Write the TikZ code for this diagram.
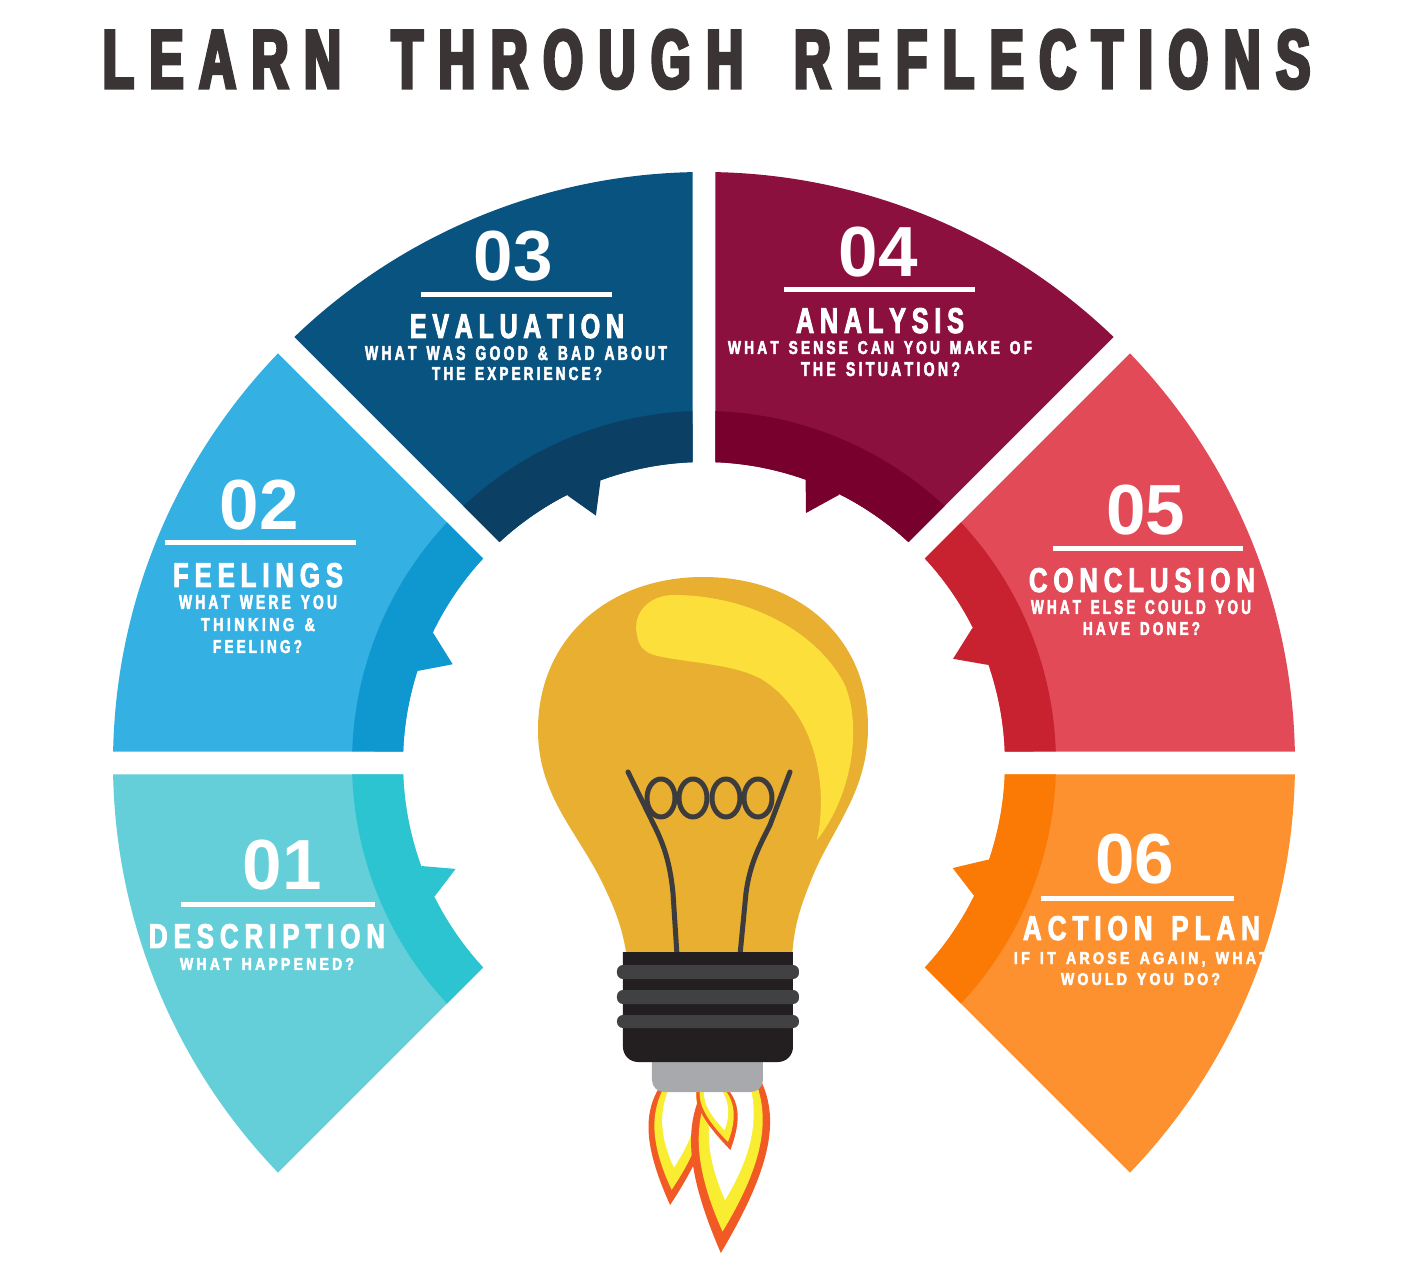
\documentclass[tikz,border=0pt]{standalone}
\usepackage{fontspec}
\usepackage{graphicx}
\setmainfont{Liberation Sans}
\newfontfamily\titlefont{Liberation Sans}[UprightFont={* Bold}, FakeStretch=0.55, FakeBold=4]
\newfontfamily\headfont{Liberation Sans}[UprightFont={* Bold}, FakeStretch=0.7, FakeBold=2.5]
\newfontfamily\numfont{Liberation Sans}[UprightFont={* Bold}]

\definecolor{titlec}{HTML}{3B3434}
\definecolor{sAl}{HTML}{65CFD9}\definecolor{sAd}{HTML}{2DC4D2}
\definecolor{sBl}{HTML}{35B0E2}\definecolor{sBd}{HTML}{0F98CF}
\definecolor{sCl}{HTML}{085380}\definecolor{sCd}{HTML}{0B3F63}
\definecolor{sDl}{HTML}{8B103D}\definecolor{sDd}{HTML}{77002D}
\definecolor{sEl}{HTML}{E24A58}\definecolor{sEd}{HTML}{C8212F}
\definecolor{sFl}{HTML}{FD912F}\definecolor{sFd}{HTML}{FB7A05}
\definecolor{bulbc}{HTML}{E8AF30}
\definecolor{hlc}{HTML}{FDDF3B}
\definecolor{filc}{HTML}{3C3B3D}
\definecolor{based}{HTML}{231F20}
\definecolor{basest}{HTML}{414042}
\definecolor{capc}{HTML}{A7A9AC}
\definecolor{flo}{HTML}{F15A24}
\definecolor{fly}{HTML}{F9ED32}

\ExplSyntaxOn
\bool_new:N \l_my_first_bool
\bool_new:N \l_my_wfirst_bool
\cs_new_protected:Npn \my_word:nn #1#2
  {
    \bool_set_true:N \l_my_first_bool
    \tl_map_inline:nn {#2}
      {
        \bool_if:NF \l_my_first_bool { \kern #1 \relax }
        \bool_set_false:N \l_my_first_bool
        ##1
      }
  }
\NewDocumentCommand \spread { m m m }
  {
    \seq_set_split:Nnn \l_tmpa_seq { ~ } {#3}
    \bool_set_true:N \l_my_wfirst_bool
    \seq_map_inline:Nn \l_tmpa_seq
      {
        \bool_if:NF \l_my_wfirst_bool { \kern #2 \relax }
        \bool_set_false:N \l_my_wfirst_bool
        \my_word:nn {#1} {##1}
      }
  }
\ExplSyntaxOff

\newcommand\hd[3]{\resizebox{#1pt}{#2pt}{\headfont\spread{0.16em}{0.5em}{#3}}}

% ring segment: #1 start, #2 end, #3 light, #4 dark, #5 #6 tooth bases, #7 tooth tip
\newcommand\ringseg[7]{%
  \fill[#3] (#1+1.115:591pt) arc[start angle=#1+1.115, end angle=#2-1.115, radius=591pt]
     -- (#2-2.19:301pt) arc[start angle=#2-2.19, end angle=#1+2.19, radius=301pt] -- cycle;
  \fill[#4] (#1+1.873:352pt) arc[start angle=#1+1.873, end angle=#2-1.873, radius=352pt]
     -- (#2-2.19:301pt) arc[start angle=#2-2.19, end angle=#1+2.19, radius=301pt] -- cycle;
  \fill[#4] (#5:318pt) -- (#5:300pt) -- (#7:270pt) -- (#6:300pt) -- (#6:318pt) -- cycle;
}

\newcommand\flame[5]{%
  \begin{scope}[shift={(#1,#2)}, xscale=#3, yscale=#4, xslant=#5]
    \fill[flo] (-0.55,0.05) .. controls (-1.05,-0.2) and (-0.9,-0.5) .. (0,-1)
       .. controls (0.9,-0.5) and (1.05,-0.2) .. (0.55,0.05) -- cycle;
    \fill[fly] (-0.43,0.05) .. controls (-0.86,-0.2) and (-0.72,-0.48) .. (0,-0.87)
       .. controls (0.72,-0.48) and (0.86,-0.2) .. (0.43,0.05) -- cycle;
    \fill[white] (-0.3,0.05) .. controls (-0.62,-0.2) and (-0.47,-0.42) .. (0,-0.68)
       .. controls (0.47,-0.42) and (0.62,-0.2) .. (0.3,0.05) -- cycle;
  \end{scope}}

\tikzset{
  lbl/.style={anchor=base, inner sep=0pt, outer sep=0pt, text=white},
  num/.style={anchor=base west, inner sep=0pt, outer sep=0pt, text=white,
              font=\numfont\fontsize{71}{71}\selectfont},
  uline/.style={white, line width=5pt}
}

\begin{document}
\begin{tikzpicture}[x=1pt, y=1pt]
\useasboundingbox (-704,-511) rectangle (710,763);
\fill[white] (-704,-511) rectangle (710,763);

% ring segments
\ringseg{180}{225}{sAl}{sAd}{200.1}{206.3}{203.1}
\ringseg{135}{180}{sBl}{sBd}{154.4}{162.1}{158.55}
\ringseg{90}{135}{sCl}{sCd}{110.2}{117}{113.6}
\ringseg{45}{90}{sDl}{sDd}{70.2}{63.3}{67.8}
\ringseg{0}{45}{sEl}{sEd}{26.65}{19.1}{22.7}
\ringseg{-45}{0}{sFl}{sFd}{-18.8}{-26.1}{-22.9}

% bulb glass
\fill[bulbc] (-77,-195) .. controls (-82,-160) and (-92,-140) .. (-104,-115)
  .. controls (-130,-65) and (-166,-30) .. (-166,33)
  .. controls (-166,125) and (-95,186) .. (-1,186)
  .. controls (95,186) and (164,125) .. (164,36)
  .. controls (164,-30) and (128,-65) .. (108,-115)
  .. controls (98,-140) and (90,-160) .. (88,-195) -- cycle;
% highlight
\fill[hlc] (-67,128) .. controls (-72,150) and (-55,168) .. (-30,168)
  .. controls (40,168) and (110,135) .. (140,80)
  .. controls (158,40) and (150,-30) .. (113,-77)
  .. controls (125,-20) and (110,50) .. (59,83)
  .. controls (30,100) and (-20,100) .. (-50,108)
  .. controls (-60,111) and (-66,118) .. (-67,128) -- cycle;
% filament
\begin{scope}[filc, line width=5pt, line cap=round, line join=round]
  \draw (-76,-9) -- (-50,-62) .. controls (-40,-82) and (-34,-100) .. (-31,-130) -- (-27,-192);
  \draw (86,-9) -- (66,-62) .. controls (56,-82) and (46,-100) .. (42,-130) -- (36,-192);
  \foreach \cx in {-43,-11,22,54}
    \draw (\cx,-35) ellipse [x radius=14pt, y radius=19pt];
\end{scope}

% flames
\flame{-22}{-325}{36}{117}{0.33}
\flame{30}{-325}{47}{165}{0.28}
\flame{8}{-325}{23}{62}{-0.8}

% cap
\fill[capc] (-52,-295) -- (-52,-317) arc[start angle=180, end angle=270, radius=12pt]
  -- (47,-329) arc[start angle=270, end angle=360, radius=12pt] -- (59,-295) -- cycle;
% base
\fill[based] (-81,-189) -- (-81,-284) arc[start angle=180, end angle=270, radius=15pt]
  -- (74,-299) arc[start angle=270, end angle=360, radius=15pt] -- (89,-189) -- cycle;
\fill[basest, rounded corners=6pt] (-87,-202) rectangle (95,-216);
\fill[basest, rounded corners=6pt] (-87,-227) rectangle (95,-241);
\fill[basest, rounded corners=6pt] (-87,-252) rectangle (95,-265);

% texts in image coordinates
\begin{scope}[shift={(-704,763)}, yscale=-1]
  \node[anchor=base, inner sep=0pt, text=titlec] (title) at (706.5,88)
    {\resizebox{1207pt}{58pt}{\titlefont\spread{0.17em}{0.55em}{LEARN THROUGH REFLECTIONS}}};

  % 03
  \node[num] (n03) at (474,281) {03};
  \draw[uline] (421,295) -- (612,295);
  \node[lbl] (h03) at (517,338) {\hd{214}{24}{EVALUATION}};
  \node[lbl] (s03a) at (516,360) {\hd{302}{14}{WHAT WAS GOOD \& BAD ABOUT}};
  \node[lbl] (s03b) at (517,380) {\hd{170}{13}{THE EXPERIENCE?}};

  % 04
  \node[num] (n04) at (839,277) {04};
  \draw[uline] (784,290) -- (975,290);
  \node[lbl] (h04) at (880,333) {\hd{168}{25}{ANALYSIS}};
  \node[lbl] (s04a) at (880,354) {\hd{304}{13}{WHAT SENSE CAN YOU MAKE OF}};
  \node[lbl] (s04b) at (880.5,376) {\hd{159}{14}{THE SITUATION?}};

  % 02
  \node[num] (n02) at (220,530) {02};
  \draw[uline] (165,543) -- (356,543);
  \node[lbl] (h02) at (258,587) {\hd{170}{24}{FEELINGS}};
  \node[lbl] (s02a) at (258,609) {\hd{158}{14}{WHAT WERE YOU}};
  \node[lbl] (s02b) at (258,631) {\hd{114}{13}{THINKING \&}};
  \node[lbl] (s02c) at (257.5,653) {\hd{89}{13}{FEELING?}};

  % 05
  \node[num] (n05) at (1106,535) {05};
  \draw[uline] (1053,549) -- (1243,549);
  \node[lbl] (h05) at (1142,592) {\hd{226}{24}{CONCLUSION}};
  \node[lbl] (s05a) at (1141,614) {\hd{220}{14}{WHAT ELSE COULD YOU}};
  \node[lbl] (s05b) at (1141.5,635) {\hd{117}{13}{HAVE DONE?}};

  % 01
  \node[num] (n01) at (243,890) {01};
  \draw[uline] (181,905) -- (375,905);
  \node[lbl] (h01) at (267,948) {\hd{236}{24}{DESCRIPTION}};
  \node[lbl] (s01a) at (267,970) {\hd{174}{12}{WHAT HAPPENED?}};

  % 06
  \node[num] (n06) at (1095,884) {06};
  \draw[uline] (1041,899) -- (1234,899);
  \node[lbl] (h06) at (1141.5,940) {\hd{237}{24}{ACTION PLAN}};
  \node[lbl] (s06a) at (1141,964) {\hd{254}{12}{IF IT AROSE AGAIN, WHAT}};
  \node[lbl] (s06b) at (1140.5,985) {\hd{159}{12}{WOULD YOU DO?}};
\end{scope}
\end{tikzpicture}
\end{document}
